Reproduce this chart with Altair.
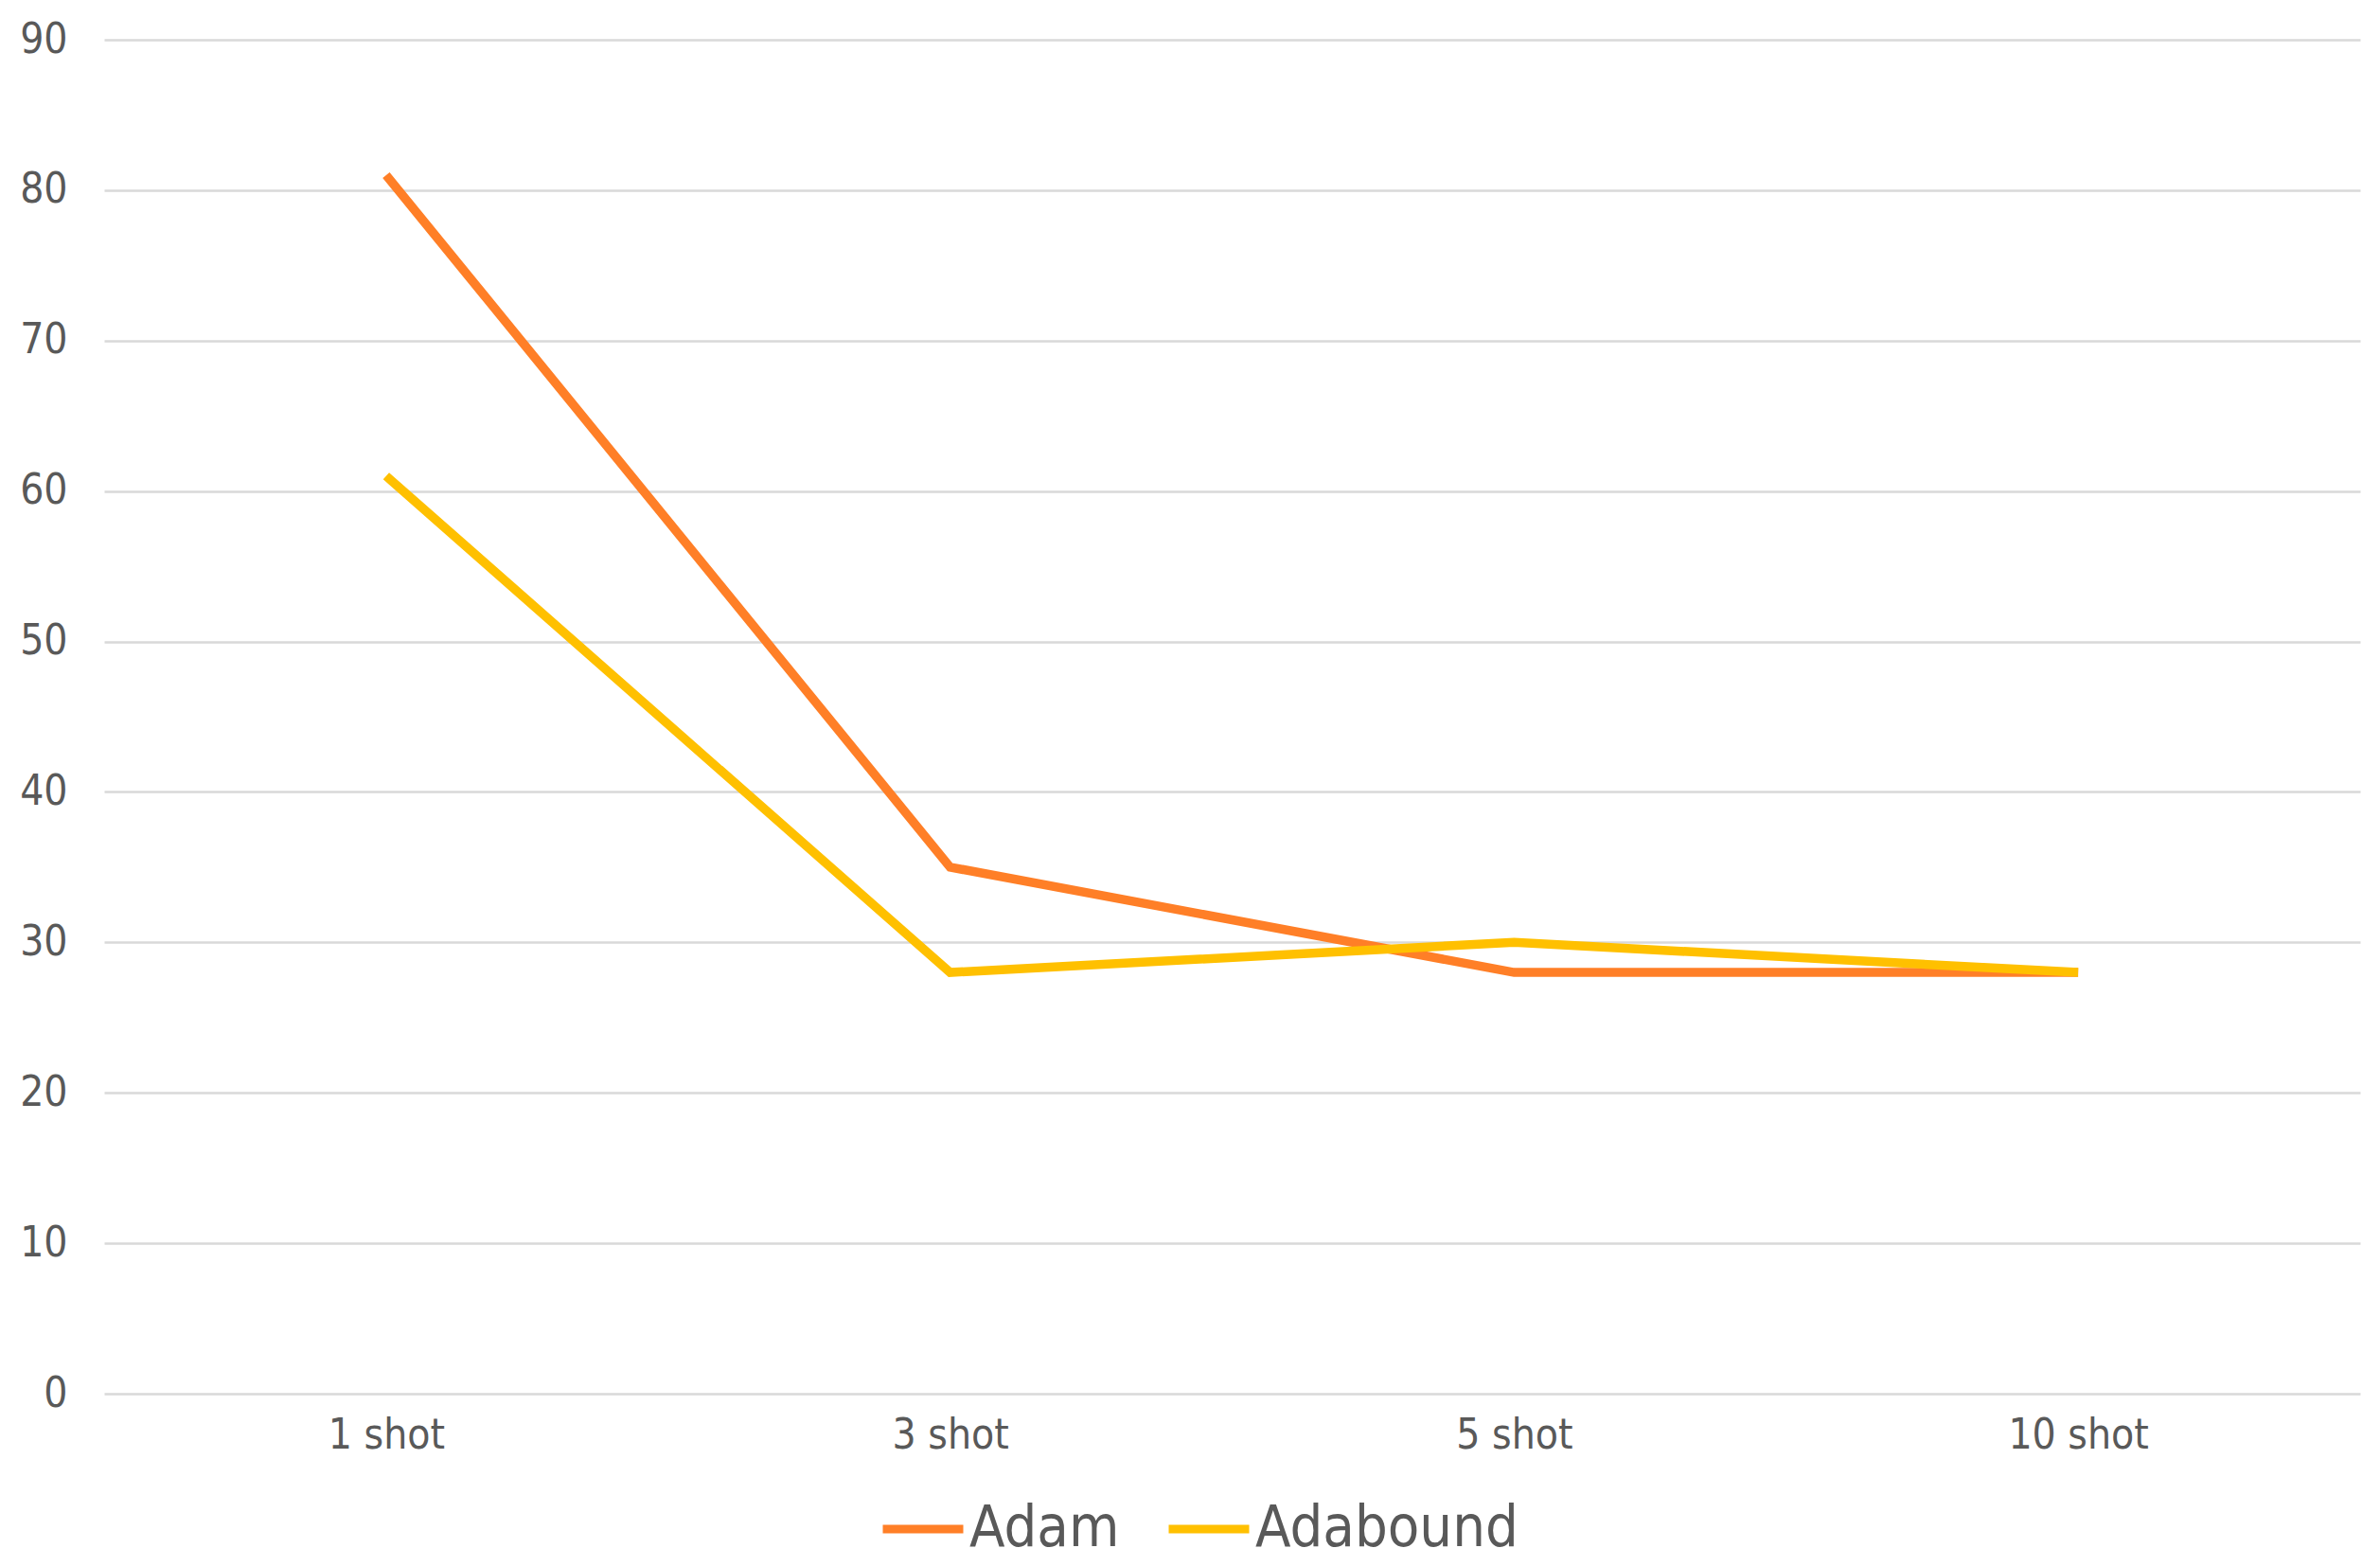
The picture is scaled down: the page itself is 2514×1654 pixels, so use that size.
import altair as alt
import pandas as pd

categories = ["1 shot", "3 shot", "5 shot", "10 shot"]
adam = [81, 35, 28, 28]
adabound = [61, 28, 30, 28]
series = ["Adam", "Adabound"]
colors = ["#FF7F27", "#FFC000"]

rows = []
for name, vals in zip(series, [adam, adabound]):
    for c, v in zip(categories, vals):
        rows.append({"shot": c, "value": v, "series": name})
df = pd.DataFrame(rows)

FONT = "Liberation Sans Narrow, DejaVu Sans Condensed, sans-serif"

chart = alt.Chart(df).mark_line(strokeWidth=9.5, strokeCap="butt").encode(
    x=alt.X("shot:N", sort=categories, title=None,
            scale=alt.Scale(type="point", padding=0.5),
            axis=alt.Axis(labelAngle=0, labelFontSize=44, labelColor="#595959",
                          labelFont=FONT, ticks=False, domain=False, grid=False,
                          labelPadding=22)),
    y=alt.Y("value:Q", title=None,
            scale=alt.Scale(domain=[0, 90], nice=False),
            axis=alt.Axis(values=list(range(0, 100, 10)), labelFontSize=44,
                          labelColor="#595959", labelFont=FONT, ticks=False,
                          domain=False, gridColor="#D9D9D9", gridWidth=2.5,
                          labelPadding=39)),
    color=alt.Color("series:N", sort=series,
                    scale=alt.Scale(domain=series, range=colors),
                    legend=alt.Legend(title=None, orient="none", direction="horizontal",
                                      legendX=818, legendY=1526,
                                      symbolType="stroke", symbolSize=7225,
                                      symbolStrokeWidth=9, labelFontSize=61,
                                      labelFont=FONT, labelColor="#595959",
                                      labelLimit=0,
                                      labelOffset=2, columnPadding=33)),
).properties(
    width=2383, height=1430,
    background="white",
    autosize=alt.AutoSizeParams(type="none"),
    padding={"left": 102, "top": 34, "right": 13, "bottom": 180},
).configure_view(stroke=None, strokeWidth=0)

chart.save("out.html", embed_options={"renderer": "svg", "actions": False})
